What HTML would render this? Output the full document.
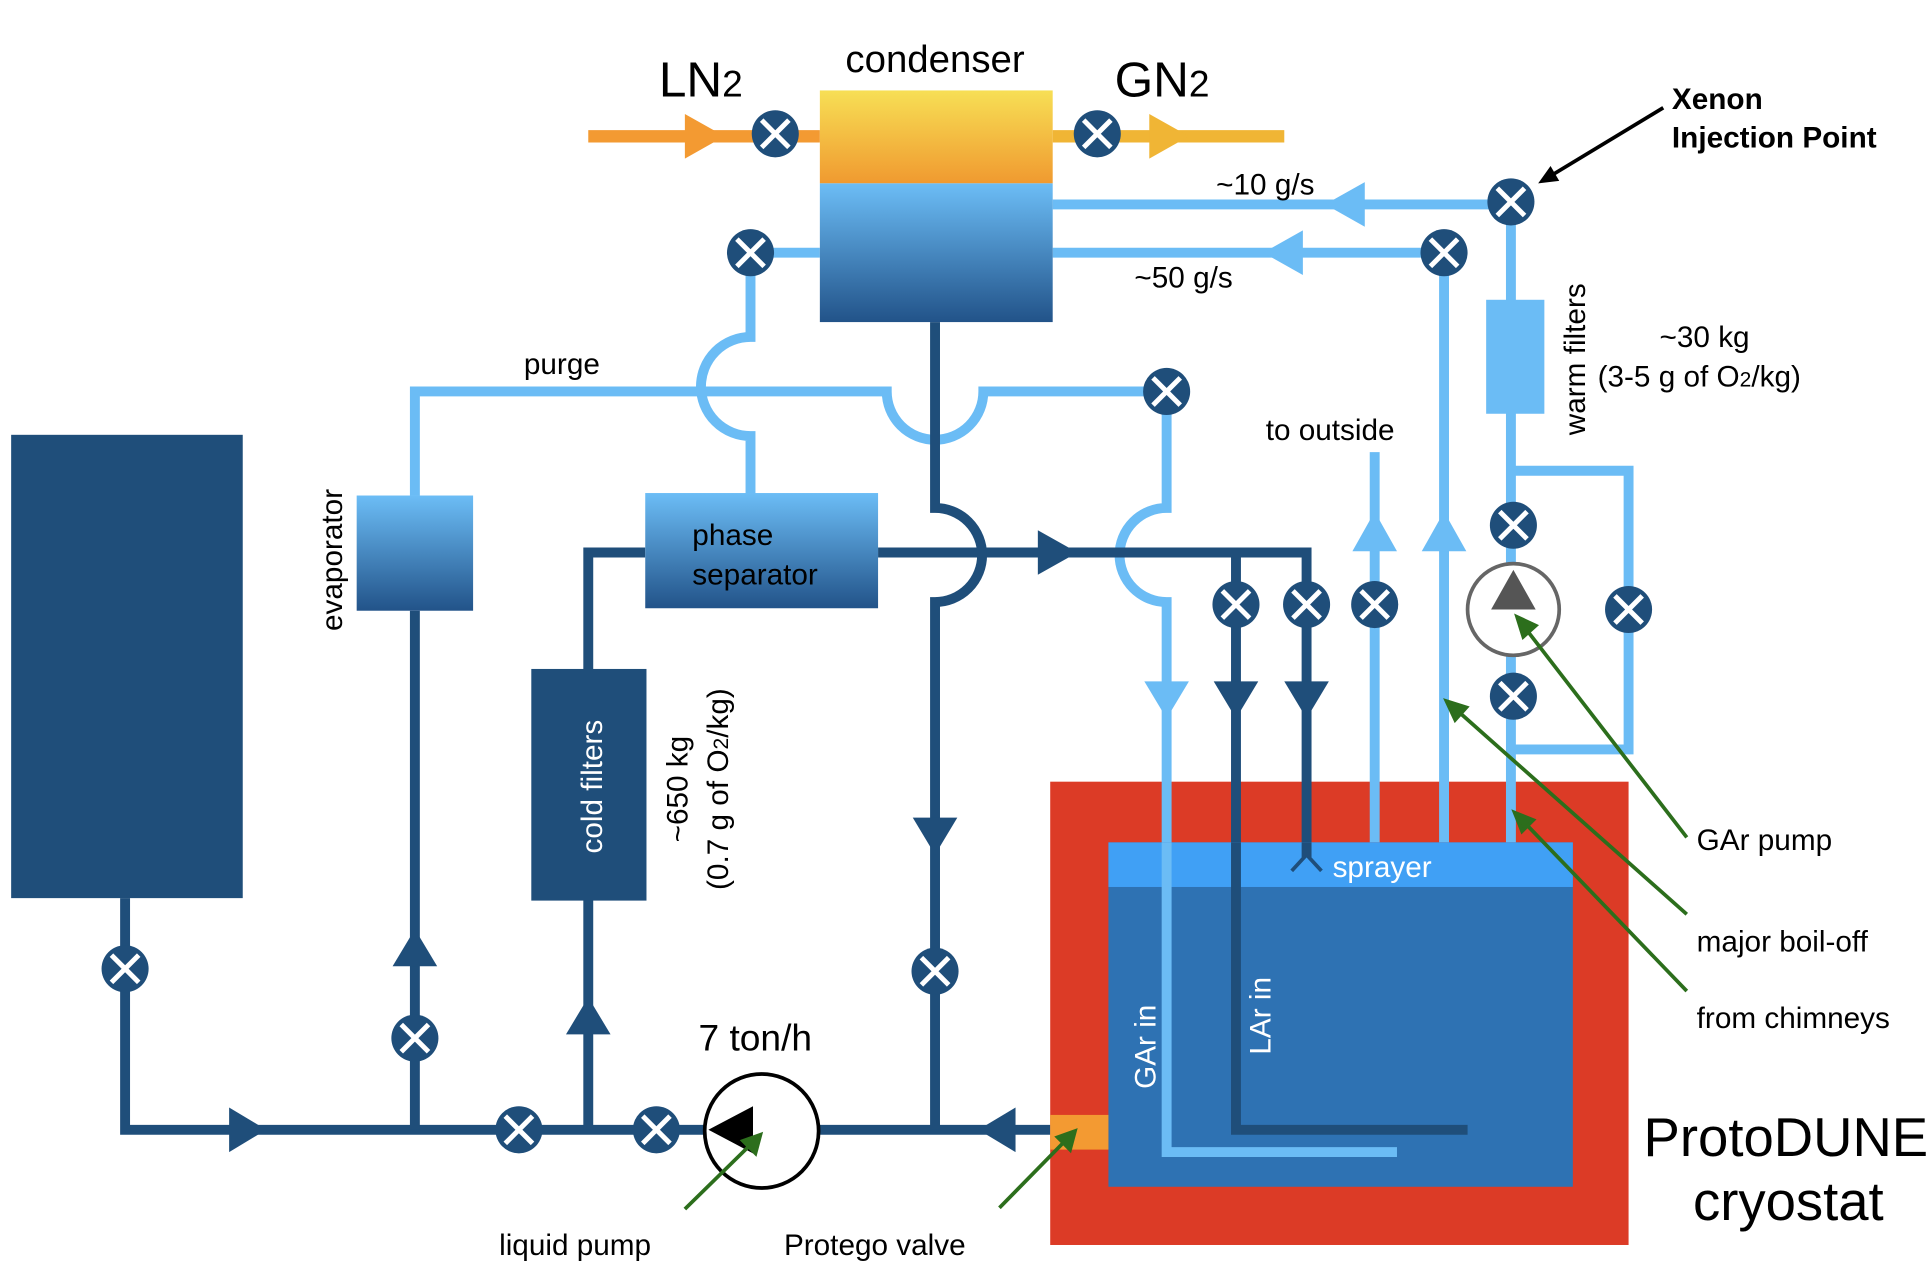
<!DOCTYPE html>
<html><head><meta charset="utf-8"><style>html,body{margin:0;padding:0;background:#fff}svg{display:block}text{font-family:"Liberation Sans",sans-serif}</style></head><body>
<svg width="1932" height="1271" viewBox="0 0 1560 1026" preserveAspectRatio="none" xmlns="http://www.w3.org/2000/svg">
<defs>
<linearGradient id="cy" x1="0" y1="0" x2="0" y2="1"><stop offset="0" stop-color="#f7df55"/><stop offset="1" stop-color="#f09a30"/></linearGradient>
<linearGradient id="cb" x1="0" y1="0" x2="0" y2="1"><stop offset="0" stop-color="#6cbdf6"/><stop offset="1" stop-color="#225389"/></linearGradient>
<g id="v"><circle r="19" fill="#1f4e7a"/><path d="M-11,-11L11,11M11,-11L-11,11" stroke="#fff" stroke-width="4"/></g>
</defs>
<rect x="848" y="631" width="467" height="374" fill="#dc3b26"/>
<g fill="none" stroke-linecap="butt">
<path d="M475,110H662" stroke="#f39a32" stroke-width="10"/>
<path d="M850,110H1037" stroke="#f0b535" stroke-width="10"/>
<g stroke="#6bbcf5" stroke-width="8">
<path d="M850,165H1220M850,204H1166M606,204H662"/>
<path d="M1220,163V680M1220,380H1315V605H1220"/>
<path d="M1166,204V680M1110,365V680"/>
<path d="M606,204V272A40,40 0 0 0 606,352V400"/>
<path d="M335,400V316H716A39,39 0 0 0 794,316H942V410A38,38 0 0 0 942,486V930H1128"/>
</g>
<g stroke="#1f4e7a" stroke-width="8">
<path d="M101,725V912H568M662,912H848"/>
<path d="M335,493V912M475,912V446H521M709,446H1055V695M998,446V912H1185"/>
<path d="M755,260V410A38,38 0 0 1 755,486V912"/>
</g>
</g>
<rect x="662" y="73" width="188" height="75" fill="url(#cy)"/>
<rect x="662" y="148" width="188" height="112" fill="url(#cb)"/>
<rect x="1200" y="242" width="47" height="92" fill="#6bbcf5"/>
<rect x="288" y="400" width="94" height="93" fill="url(#cb)"/>
<rect x="521" y="398" width="188" height="93" fill="url(#cb)"/>
<rect x="9" y="351" width="187" height="374" fill="#1f4e7a"/>
<rect x="429" y="540" width="93" height="187" fill="#1f4e7a"/>
<rect x="895" y="680" width="375" height="278" fill="#2e72b3"/>
<rect x="895" y="680" width="375" height="36" fill="#40a0f5"/>
<path d="M942,680V930H1128" fill="none" stroke="#6bbcf5" stroke-width="8"/>
<path d="M998,680V912H1185M1055,680V692" fill="none" stroke="#1f4e7a" stroke-width="8"/>
<path d="M1043,703L1055,690L1067,703" fill="none" stroke="#1f4e7a" stroke-width="3"/>
<rect x="848" y="900" width="47" height="28" fill="#f39a32"/>
<path d="M553,92L585,110L553,128Z" fill="#f39a32"/>
<path d="M928,92L960,110L928,128Z" fill="#f0b535"/>
<g fill="#6bbcf5">
<path d="M1102,147L1070,165L1102,183Z"/><path d="M1052,186L1020,204L1052,222Z"/>
<path d="M1092,445L1110,413L1128,445Z"/><path d="M1148,445L1166,413L1184,445Z"/>
<path d="M924,550L942,580L960,550Z"/>
</g>
<g fill="#1f4e7a">
<path d="M185,894L215,912L185,930Z"/><path d="M820,894L790,912L820,930Z"/>
<path d="M838,428L870,446L838,464Z"/>
<path d="M317,780L335,750L353,780Z"/><path d="M457,835L475,805L493,835Z"/>
<path d="M737,660L755,690L773,660Z"/>
<path d="M980,550L998,580L1016,550Z"/><path d="M1037,550L1055,580L1073,550Z"/>
</g>
<use href="#v" x="626" y="108"/><use href="#v" x="886" y="108"/>
<use href="#v" x="1220" y="163"/><use href="#v" x="1166" y="204"/><use href="#v" x="606" y="204"/>
<use href="#v" x="942" y="316"/><use href="#v" x="1222" y="424"/><use href="#v" x="1222" y="562"/>
<use href="#v" x="1315" y="492"/><use href="#v" x="998" y="488"/><use href="#v" x="1055" y="488"/>
<use href="#v" x="1110" y="488"/><use href="#v" x="101" y="782"/><use href="#v" x="335" y="838"/>
<use href="#v" x="755" y="784"/><use href="#v" x="419" y="912"/><use href="#v" x="530" y="912"/>
<circle cx="1222" cy="492" r="37" fill="#fff" stroke="#666" stroke-width="3"/>
<path d="M1204,492L1222,460L1240,492Z" fill="#555"/>
<circle cx="615" cy="913" r="46" fill="#fff" stroke="#000" stroke-width="3"/>
<path d="M572,912L608,893L608,931Z" fill="#000"/>
<g stroke="#2c6e1c" stroke-width="3" fill="#2c6e1c">
<path d="M1362,676L1230,505" fill="none"/><path d="M1225,498L1240,505L1230,514Z"/>
<path d="M1362,738L1176,573" fill="none"/><path d="M1168,566L1184,571L1175,581Z"/>
<path d="M1362,800L1230,663" fill="none"/><path d="M1223,656L1238,662L1229,671Z"/>
<path d="M553,976L606,924" fill="none"/><path d="M614,916L610,931L600,921Z"/>
<path d="M807,975L860,921" fill="none"/><path d="M868,913L864,928L854,918Z"/>
</g>
<path d="M1343,87L1252,142" stroke="#000" stroke-width="3"/><path d="M1242,148L1252,134L1259,146Z" fill="#000"/>
<g font-size="24" fill="#000">
<text x="755" y="58" text-anchor="middle" font-size="31">condenser</text>
<text x="532" y="78" font-size="40">LN<tspan font-size="30">2</tspan></text>
<text x="900" y="78" font-size="40">GN<tspan font-size="30">2</tspan></text>
<text x="1350" y="88" font-weight="bold">Xenon</text>
<text x="1350" y="119" font-weight="bold">Injection Point</text>
<text x="982" y="157">~10 g/s</text>
<text x="916" y="232">~50 g/s</text>
<text x="1340" y="280">~30 kg</text>
<text x="1290" y="312">(3-5 g of O<tspan font-size="17">2</tspan>/kg)</text>
<text x="1022" y="355">to outside</text>
<text x="423" y="302">purge</text>
<text x="564" y="848" font-size="30">7 ton/h</text>
<text x="403" y="1013">liquid pump</text>
<text x="633" y="1013">Protego valve</text>
<text x="1370" y="686">GAr pump</text>
<text x="1370" y="768">major boil-off</text>
<text x="1370" y="830">from chimneys</text>
<text x="1442" y="933" font-size="44" text-anchor="middle">ProtoDUNE</text>
<text x="1444" y="985" font-size="44" text-anchor="middle">cryostat</text>
<text x="1076" y="708" fill="#fff">sprayer</text>
<text x="559" y="440">phase</text>
<text x="559" y="472">separator</text>
<text transform="translate(276,452) rotate(-90)" text-anchor="middle">evaporator</text>
<text transform="translate(1280,290) rotate(-90)" text-anchor="middle">warm filters</text>
<text transform="translate(486,635) rotate(-90)" text-anchor="middle" fill="#fff">cold filters</text>
<text transform="translate(555,637) rotate(-90)" text-anchor="middle">~650 kg</text>
<text transform="translate(588,637) rotate(-90)" text-anchor="middle">(0.7 g of O<tspan font-size="17">2</tspan>/kg)</text>
<text transform="translate(933,845) rotate(-90)" text-anchor="middle" fill="#fff">GAr in</text>
<text transform="translate(1026,820) rotate(-90)" text-anchor="middle" fill="#fff">LAr in</text>
</g>
</svg>
</body></html>
